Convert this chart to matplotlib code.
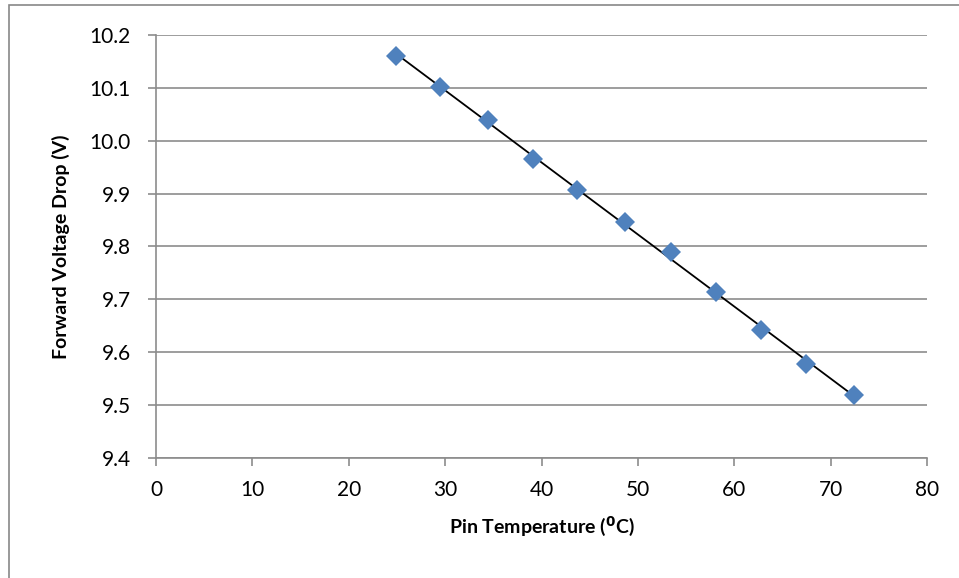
import numpy as np
import matplotlib.pyplot as plt
from matplotlib.patches import Rectangle

# data
pin_temp = [24.9, 29.5, 34.4, 39.1, 43.7, 48.7, 53.4, 58.1, 62.8, 67.4, 72.4]
v_drop = [10.160, 10.102, 10.039, 9.966, 9.907, 9.846, 9.790, 9.714, 9.642, 9.578, 9.519]

x_ticks = [0, 10, 20, 30, 40, 50, 60, 70, 80]
y_ticks = [9.4, 9.5, 9.6, 9.7, 9.8, 9.9, 10.0, 10.1, 10.2]

plt.rcParams['font.family'] = ['Lato', 'DejaVu Sans']

fig = plt.figure(figsize=(9.59, 5.78), dpi=100)
ax = fig.add_axes([156 / 959, 1 - 458 / 578, (927 - 156) / 959, (458 - 35) / 578])

# chart border (Excel style)
fig.patches.append(Rectangle((9 / 959, -0.01), 1.0, 1 - 5 / 578 + 0.01,
                             transform=fig.transFigure, fill=False,
                             edgecolor='#888888', linewidth=1.2))

# linear trendline
coef = np.polyfit(pin_temp, v_drop, 1)
xs = np.array([pin_temp[0], pin_temp[-1]])
ax.plot(xs, np.polyval(coef, xs), color='black', linewidth=1.3, zorder=2)

ax.plot(pin_temp, v_drop, linestyle='none', marker='D', markersize=10,
        color='#4F81BD', markeredgewidth=0, zorder=3)

ax.set_xlim(0, 80)
ax.set_ylim(9.4, 10.2)
ax.set_xticks(x_ticks)
ax.set_yticks(y_ticks)
ax.set_yticklabels([f"{v:.1f}" for v in y_ticks])
ax.grid(axis='y', color='#8c8c8c', linewidth=1.2)
ax.set_axisbelow(True)

for s in ['top', 'right']:
    ax.spines[s].set_visible(False)
for s in ['left', 'bottom']:
    ax.spines[s].set_color('#8c8c8c')
    ax.spines[s].set_linewidth(1.2)

ax.tick_params(direction='out', length=6, width=1.2, color='#8c8c8c',
               labelsize=15)
ax.tick_params(axis='x', pad=10)
ax.tick_params(axis='y', pad=12)

ax.set_xlabel('Pin Temperature ($\\mathbf{^0}$C)', fontsize=14, fontweight='bold', labelpad=10)
ax.set_ylabel('Forward Voltage Drop (V)', fontsize=14, fontweight='bold', labelpad=14)

plt.savefig('out.png', dpi=100)
